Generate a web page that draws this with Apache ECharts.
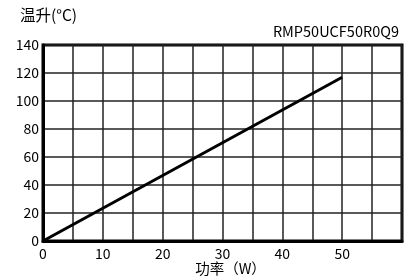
<!DOCTYPE html>
<html>
<head>
<meta charset="utf-8">
<script src="https://cdn.jsdelivr.net/npm/echarts@6/dist/echarts.min.js"></script>
<style>
  html, body { margin: 0; padding: 0; background: #fff; }
  #chart { width: 409px; height: 278px; }
</style>
</head>
<body>
<div id="chart"></div>
<script>
// 功率(W) / 温升(°C)
const powerW = [0, 50];
const tempRise = [0, 117];
const modelName = "RMP50UCF50R0Q9";

const font = "'Noto Sans CJK SC', 'Noto Sans', sans-serif";
let myChart = echarts.init(document.getElementById("chart"));
myChart.setOption({
  animation: false,
  textStyle: { fontFamily: font },
  title: [
    {
      text: "温升(°C)",
      left: 15,
      top: 2,
      textStyle: { fontSize: 15.5, fontWeight: "normal", color: "#000", fontFamily: font },
    },
    {
      text: modelName,
      right: 5,
      top: 19,
      textStyle: { fontSize: 14.5, fontWeight: "normal", color: "#000", fontFamily: font },
    },
  ],
  grid: {
    left: 43,
    top: 45,
    right: 7,
    bottom: 37,
    outerBoundsMode: "none",
    show: true,
    borderColor: "#000",
    borderWidth: 3,
  },
  xAxis: {
    type: "value",
    min: 0,
    max: 60,
    interval: 5,
    name: "功率（W）",
    nameLocation: "middle",
    nameGap: 20,
    nameMoveOverlap: false,
    nameTextStyle: { fontSize: 14.5, color: "#000", fontFamily: font, padding: [0, 0, 0, 16] },
    axisLine: { show: true, lineStyle: { color: "#000", width: 3 } },
    axisTick: { show: false },
    axisLabel: {
      fontSize: 14,
      color: "#000",
      margin: 6,
      showMaxLabel: false,
      formatter: (v) => (v % 10 === 0 && v < 60 ? String(v) : ""),
    },
    splitLine: { show: true, lineStyle: { color: "#222", width: 1.5 } },
  },
  yAxis: {
    type: "value",
    min: 0,
    max: 140,
    interval: 20,
    axisLine: { show: true, lineStyle: { color: "#000", width: 3 } },
    axisTick: { show: false },
    axisLabel: { fontSize: 14, color: "#000", margin: 4 },
    splitLine: { show: true, lineStyle: { color: "#222", width: 1.5 } },
  },
  series: [
    {
      type: "line",
      data: powerW.map((p, i) => [p, tempRise[i]]),
      symbol: "none",
      lineStyle: { color: "#000", width: 3 },
    },
  ],
});
window.addEventListener("resize", function () {
  myChart.resize();
});
</script>
</body>
</html>
